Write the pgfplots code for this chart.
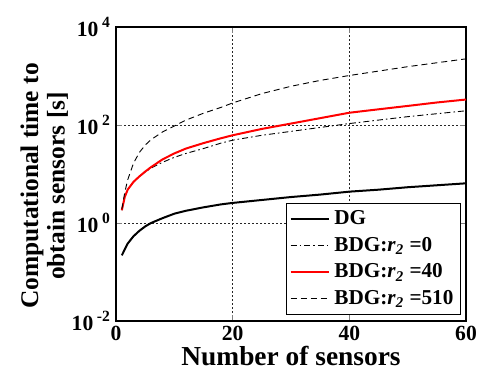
\documentclass[border=0pt]{standalone}
\usepackage{pgfplots}
\pgfplotsset{compat=1.18}
\usepackage{fontspec}
\setmainfont{Liberation Serif}
\begin{document}
\begin{tikzpicture}
\begin{axis}[
  width=175pt, height=147pt, scale only axis,
  xmin=0, xmax=60, ymin=1e-2, ymax=1e4,
  ymode=log, log basis y=10,
  xtick={0,20,40,60}, ytick={1e-2,1,1e2,1e4},
  minor tick num=0, minor ytick={},
  tick align=inside, major tick length=3pt,
  grid=major, major grid style={dash pattern=on 1pt off 1pt, black!85, line width=0.5pt},
  axis line style={line width=0.7pt},
  /pgf/number format/assume math mode=true,
  tick label style={font=\fontsize{10.8}{12}\selectfont\bfseries},
  xticklabel style={yshift=1pt},
  yticklabel style={xshift=0.5pt},
  yticklabel={10\,\raisebox{0.9ex}{\fontsize{7.8}{9}\selectfont\bfseries\pgfmathprintnumber{\tick}}},
  xlabel={Number of sensors},
  xlabel style={font=\fontsize{13.7}{15}\selectfont\bfseries, yshift=4pt},
  ylabel={Computational time to\\obtain sensors [s]},
  ylabel style={font=\fontsize{12.7}{13.2}\selectfont\bfseries, align=center, yshift=-5pt, xshift=-6pt},
  legend style={font=\fontsize{10.6}{12}\selectfont\bfseries, draw=black, line width=0.7pt,
    at={(0.986,0.02)}, anchor=south east, inner sep=1.5pt, row sep=0.8pt},
  legend cell align=left,
  legend image code/.code={\draw[#1] (0cm,0cm) -- (0.68cm,0cm);},
]
\coordinate (bl) at (rel axis cs:0,0);
\coordinate (tr) at (rel axis cs:1,1);
\addplot[black, line width=1pt] coordinates {
(1,0.219)(2,0.380)(3,0.537)(4,0.692)(5,0.851)(6,1.0)(8,1.259)(10,1.549)(12,1.778)(15,2.089)(18,2.399)(20,2.570)(25,2.951)(30,3.388)(35,3.802)(40,4.365)(45,4.786)(50,5.370)(55,5.888)(60,6.457)};
\addlegendentry{DG}
\addplot[black, line width=0.45pt, dash pattern=on 3pt off 1.5pt on 0.8pt off 1.5pt] coordinates {
(1,1.82)(1.5,3.39)(2,4.79)(3,6.92)(4,8.91)(5,10.96)(6,13.18)(8,17.38)(10,21.88)(12,26.3)(15,33.1)(18,42.7)(20,49.0)(25,61.7)(30,74.1)(35,89.1)(40,107)(45,126)(50,148)(55,170)(60,195)};
\addlegendentry{BDG:\textit{r}\textsubscript{\textit{2}} =0}
\addplot[red, line width=1pt] coordinates {
(1,1.82)(1.5,3.39)(2,4.79)(3,6.92)(4,8.91)(5,11.2)(6,13.8)(8,19.95)(10,26.3)(12,33.1)(15,42.7)(18,53.7)(20,61.7)(25,83.2)(30,107)(35,138)(40,178)(45,209)(50,245)(55,288)(60,331)};
\addlegendentry{BDG:\textit{r}\textsubscript{\textit{2}} =40}
\addplot[black, line width=0.45pt, dash pattern=on 3pt off 2pt] coordinates {
(1,1.91)(1.5,4.17)(2,7.59)(3,16.6)(4,27.5)(5,38.9)(6,50.1)(8,72.4)(10,95.5)(12,126)(15,174)(18,229)(20,282)(25,437)(30,617)(35,813)(40,1023)(45,1259)(50,1549)(55,1862)(60,2239)};
\addlegendentry{BDG:\textit{r}\textsubscript{\textit{2}} =510}
\end{axis}
\pgfresetboundingbox
\path[use as bounding box] ([xshift=-58pt,yshift=-29pt]bl) rectangle ([xshift=5.5pt,yshift=13.5pt]tr);
\end{tikzpicture}
\end{document}
